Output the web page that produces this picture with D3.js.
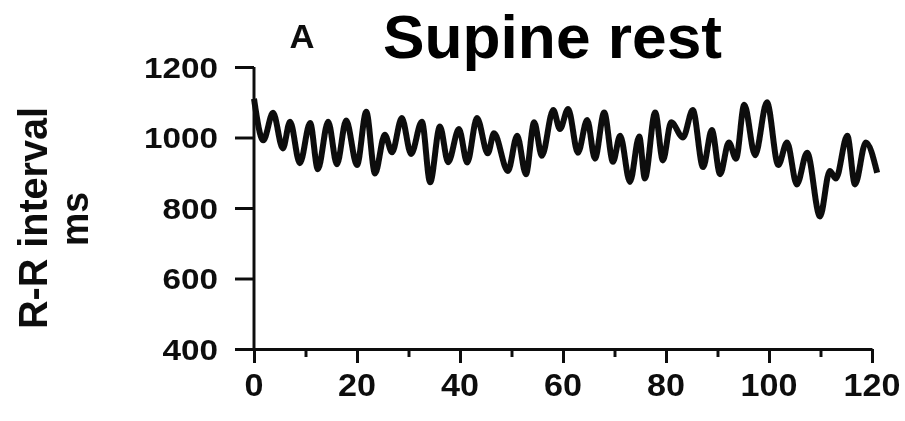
<!DOCTYPE html>
<html>
<head>
<meta charset="utf-8">
<script src="https://cdn.jsdelivr.net/npm/d3@7"></script>
<style>
  html, body { margin: 0; padding: 0; background: #fff; }
  svg { display: block; }
  text { font-family: "Liberation Sans", Arial, sans-serif; font-weight: bold; fill: #111; }
</style>
</head>
<body>
<script>
// R-R interval series (time in s, interval in ms)
const times = [0, 1.8, 3.7, 5.6, 7.0, 8.9, 10.9, 12.4, 14.4, 16.1, 17.9, 20.0, 21.8, 23.5,
  25.4, 26.8, 28.7, 30.5, 32.6, 34.2, 36.1, 37.7, 39.8, 41.4, 43.3, 45.4, 46.6, 49.3,
  51.1, 52.8, 54.4, 55.9, 58.1, 59.4, 61.0, 62.9, 64.7, 66.2, 68.0, 69.7, 71.1, 73.0,
  74.8, 75.9, 77.9, 79.4, 81.0, 83.3, 85.2, 87.2, 88.9, 90.5, 92.2, 93.6, 95.2, 97.3,
  99.6, 101.8, 103.5, 105.4, 107.4, 109.9, 111.8, 113.0, 115.2, 116.7, 118.8, 121.0];
const rrValues = [1110, 992, 1070, 969, 1045, 927, 1041, 910, 1045, 924, 1048, 922, 1073, 898,
  1008, 958, 1055, 953, 1045, 873, 1031, 930, 1024, 929, 1055, 955, 1012, 905,
  1005, 896, 1043, 948, 1078, 1024, 1081, 957, 1050, 940, 1071, 931, 1005, 874,
  1003, 884, 1071, 935, 1043, 1000, 1078, 916, 1021, 896, 986, 940, 1093, 950,
  1100, 922, 986, 867, 957, 776, 905, 884, 1005, 867, 986, 900];

const yTicks = [400, 600, 800, 1000, 1200];
const xMajorTicks = [0, 20, 40, 60, 80, 100, 120];
const xMinorTicks = [10, 30, 50, 70, 90, 110];
const titleText = "Supine rest";
const panelLabel = "A";
const yTitleLines = ["R-R interval", "ms"];

const W = 905, H = 421;
const svg = d3.select("body").append("svg").attr("width", W).attr("height", H);

const defs = svg.append("defs");
defs.append("filter").attr("id", "soft")
  .append("feGaussianBlur").attr("stdDeviation", 0.7);

const x = d3.scaleLinear().domain([0, 120]).range([254, 872]);
const y = d3.scaleLinear().domain([400, 1200]).range([349, 67]);

const plot = svg.append("g").attr("filter", "url(#soft)");

// y axis
const yAxis = d3.axisLeft(y).tickValues(yTicks).tickSize(19).tickSizeOuter(0).tickFormat("");
const gy = plot.append("g").attr("transform", `translate(${x(0)},0)`).call(yAxis);
gy.select(".domain").remove();
gy.selectAll(".tick line").attr("stroke", "#111").attr("stroke-width", 3);
plot.append("line")
  .attr("x1", x(0)).attr("x2", x(0))
  .attr("y1", y(1200)).attr("y2", y(400))
  .attr("stroke", "#111").attr("stroke-width", 3);

plot.selectAll(".ylab").data(yTicks).join("text")
  .attr("class", "ylab")
  .attr("x", 218).attr("y", d => y(d)).attr("dy", "0.36em")
  .attr("text-anchor", "end")
  .attr("font-size", 30)
  .attr("textLength", d => String(d).length * 18.5)
  .attr("lengthAdjust", "spacingAndGlyphs")
  .text(d => d);

// x axis
const xMajor = d3.axisBottom(x).tickValues(xMajorTicks).tickSize(14).tickSizeOuter(0).tickFormat("");
const gx = plot.append("g").attr("transform", `translate(0,${y(400)})`).call(xMajor);
gx.select(".domain").attr("stroke", "#111").attr("stroke-width", 3);
gx.selectAll(".tick line").attr("stroke", "#111").attr("stroke-width", 3);
const xMinor = d3.axisBottom(x).tickValues(xMinorTicks).tickSize(8).tickSizeOuter(0).tickFormat("");
const gxm = plot.append("g").attr("transform", `translate(0,${y(400)})`).call(xMinor);
gxm.select(".domain").remove();
gxm.selectAll(".tick line").attr("stroke", "#111").attr("stroke-width", 3);

plot.selectAll(".xlab").data(xMajorTicks).join("text")
  .attr("class", "xlab")
  .attr("x", d => x(d)).attr("y", 396)
  .attr("text-anchor", "middle")
  .attr("font-size", 32)
  .attr("textLength", d => String(d).length * 19)
  .attr("lengthAdjust", "spacingAndGlyphs")
  .text(d => d);

// axis title
plot.append("text")
  .attr("transform", "translate(47,218) rotate(-90)")
  .attr("text-anchor", "middle")
  .attr("font-size", 40)
  .attr("textLength", 222)
  .attr("lengthAdjust", "spacingAndGlyphs")
  .text(yTitleLines[0]);
plot.append("text")
  .attr("transform", "translate(88,219) rotate(-90)")
  .attr("text-anchor", "middle")
  .attr("font-size", 38)
  .attr("textLength", 54)
  .attr("lengthAdjust", "spacingAndGlyphs")
  .text(yTitleLines[1]);

// panel letter
plot.append("text")
  .attr("x", 302).attr("y", 48)
  .attr("text-anchor", "middle")
  .attr("font-size", 33)
  .attr("textLength", 25)
  .attr("lengthAdjust", "spacingAndGlyphs")
  .text(panelLabel);

// series line
const line = d3.line()
  .x((d, i) => x(times[i]))
  .y(d => y(d))
  .curve(d3.curveMonotoneX);
plot.append("path")
  .datum(rrValues)
  .attr("fill", "none")
  .attr("stroke", "#111")
  .attr("stroke-width", 6)
  .attr("stroke-linejoin", "round")
  .attr("d", line);

// title
svg.append("text")
  .attr("x", 383).attr("y", 58)
  .attr("font-size", 62)
  .attr("textLength", 339)
  .attr("lengthAdjust", "spacingAndGlyphs")
  .style("fill", "#000")
  .text(titleText);
</script>
</body>
</html>
